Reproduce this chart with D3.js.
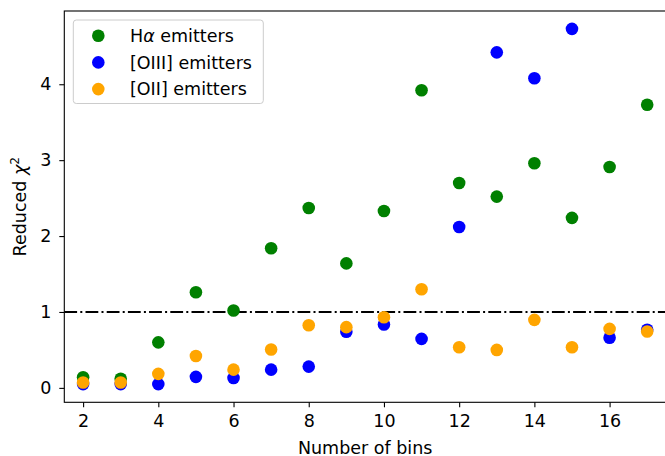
<!DOCTYPE html>
<html>
<head>
<meta charset="utf-8">
<script src="https://cdn.jsdelivr.net/npm/d3@7"></script>
<style>
  body { margin: 0; background: #fff; }
  svg { display: block; font-family: "DejaVu Sans", sans-serif; }
</style>
</head>
<body>
<div id="chart"></div>
<script>
// number of bins on x
const bins = [2, 3, 4, 5, 6, 7, 8, 9, 10, 11, 12, 13, 14, 15, 16, 17];

// reduced chi^2 per emitter sample
const haValues = [0.14, 0.12, 0.60, 1.26, 1.02, 1.84, 2.37, 1.64, 2.33, 3.92, 2.70, 2.52, 2.96, 2.24, 2.91, 3.73];
const oiiiValues = [0.05, 0.05, 0.05, 0.145, 0.13, 0.24, 0.28, 0.74, 0.835, 0.645, 2.12, 4.42, 4.08, 4.73, 0.66, 0.765];
const oiiValues = [0.07, 0.07, 0.185, 0.42, 0.24, 0.505, 0.826, 0.80, 0.93, 1.30, 0.536, 0.50, 0.896, 0.536, 0.777, 0.742];

const xTicks = [2, 4, 6, 8, 10, 12, 14, 16];
const yTicks = [0, 1, 2, 3, 4];
const refLevel = 1;

const series = [
  { name: 'Hα', values: haValues, color: '#008000' },
  { name: '[OIII]', values: oiiiValues, color: '#0000ff' },
  { name: '[OII]', values: oiiValues, color: '#ffa500' }
];

const width = 665;
const height = 456;
const margin = { left: 64.3, right: -1, top: 11, bottom: 53.7 };
const fontSize = '17.5px';

const x = d3.scaleLinear()
  .domain([1.5, 17.5])
  .range([margin.left, width - margin.right]);

const y = d3.scaleLinear()
  .domain([-0.19, 4.965])
  .range([height - margin.bottom, margin.top]);

const svg = d3.select('#chart')
  .append('svg')
  .attr('width', width)
  .attr('height', height)
  .attr('viewBox', `0 0 ${width} ${height}`);

// axes
const xAxis = svg.append('g')
  .attr('transform', `translate(0,${height - margin.bottom})`)
  .call(d3.axisBottom(x).tickValues(xTicks).tickSize(5).tickPadding(7.7).tickFormat(d3.format('d')));

const yAxis = svg.append('g')
  .attr('transform', `translate(${margin.left},0)`)
  .call(d3.axisLeft(y).tickValues(yTicks).tickSize(5).tickPadding(7.8).tickFormat(d3.format('d')));

[xAxis, yAxis].forEach(a => {
  a.select('.domain').remove();
  a.selectAll('.tick line').attr('stroke', '#000').attr('stroke-width', 1.1);
  a.selectAll('.tick text')
    .attr('fill', '#000')
    .attr('font-size', fontSize)
    .attr('font-family', '"DejaVu Sans", sans-serif');
});

// spines
svg.append('rect')
  .attr('x', margin.left)
  .attr('y', margin.top)
  .attr('width', width - margin.right - margin.left)
  .attr('height', height - margin.bottom - margin.top)
  .attr('fill', 'none')
  .attr('stroke', '#000')
  .attr('stroke-width', 1.1);

// reference line at chi^2 = 1
svg.append('line')
  .attr('x1', margin.left)
  .attr('x2', width - margin.right)
  .attr('y1', y(refLevel))
  .attr('y2', y(refLevel))
  .attr('stroke', '#000')
  .attr('stroke-width', 2)
  .attr('stroke-dasharray', '12.8,3.2,2,3.2');

// points
series.forEach(s => {
  svg.append('g')
    .selectAll('circle')
    .data(bins)
    .join('circle')
    .attr('cx', (d) => x(d))
    .attr('cy', (d, i) => y(s.values[i]))
    .attr('r', 6.3)
    .attr('fill', s.color);
});

// axis labels
svg.append('text')
  .attr('x', x(9.5))
  .attr('y', 453.5)
  .attr('text-anchor', 'middle')
  .attr('font-size', fontSize)
  .attr('fill', '#000')
  .text('Number of bins');

const yLabel = svg.append('text')
  .attr('transform', `translate(26,${(margin.top + height - margin.bottom) / 2}) rotate(-90)`)
  .attr('text-anchor', 'middle')
  .attr('font-size', fontSize)
  .attr('fill', '#000');
yLabel.append('tspan').text('Reduced ');
yLabel.append('tspan').attr('font-style', 'italic').text('χ');
yLabel.append('tspan').attr('font-size', '12.2px').attr('dy', -7).text('2');

// legend
const legend = svg.append('g');
legend.append('rect')
  .attr('x', 73.3)
  .attr('y', 20)
  .attr('width', 190)
  .attr('height', 83.5)
  .attr('rx', 3)
  .attr('fill', '#fff')
  .attr('fill-opacity', 0.8)
  .attr('stroke', '#cccccc')
  .attr('stroke-width', 1);

series.forEach((s, i) => {
  const ly = 35.7 + i * 26.7;
  legend.append('circle')
    .attr('cx', 98.3)
    .attr('cy', ly)
    .attr('r', 6.3)
    .attr('fill', s.color);
  const t = legend.append('text')
    .attr('x', 130)
    .attr('y', ly + 6.2)
    .attr('font-size', fontSize)
    .attr('fill', '#000');
  if (s.name === 'Hα') {
    t.append('tspan').text('H');
    t.append('tspan').attr('font-style', 'italic').text('α');
    t.append('tspan').text(' emitters');
  } else {
    t.text(s.name + ' emitters');
  }
});
</script>
</body>
</html>
